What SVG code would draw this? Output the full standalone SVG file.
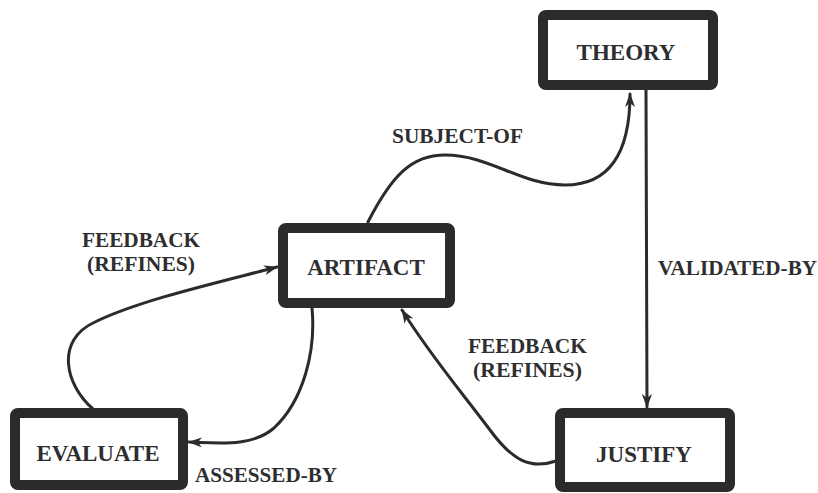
<svg xmlns="http://www.w3.org/2000/svg" width="818" height="493" viewBox="0 0 818 493">
  <style>
    .box { fill: #ffffff; stroke: #2b2b2b; stroke-width: 10; }
    text { font-family: 'Liberation Serif', 'DejaVu Serif', serif; font-weight: bold; fill: #2e2e2e; }
    .node-label { font-size: 23px; text-anchor: middle; }
    .edge-label { font-size: 21px; }
    .edge { fill: none; stroke: #2b2b2b; stroke-width: 3; stroke-linecap: round; }
  </style>
  <defs>
    <marker id="arrow" viewBox="0 0 14 10" refX="13" refY="5" markerWidth="14" markerHeight="10" markerUnits="userSpaceOnUse" orient="auto">
      <path d="M0,0 L14,5 L0,10 L4,5 z" fill="#2b2b2b"/>
    </marker>
  </defs>
  <rect width="818" height="493" fill="#ffffff"/>

  <g id="connectors">
    <!-- ARTIFACT -> THEORY -->
    <path class="edge" marker-end="url(#arrow)" d="M368,222 C392,175 412,155 445,155 C490,155 520,185 565,185 C612,185 630,150 630,94"/>
    <!-- THEORY -> JUSTIFY -->
    <path class="edge" marker-end="url(#arrow)" d="M646,90 L647,407"/>
    <!-- JUSTIFY -> ARTIFACT -->
    <path class="edge" marker-end="url(#arrow)" d="M556,461 C530,470 512,460 490,430 C460,390 430,355 402,310"/>
    <!-- ARTIFACT -> EVALUATE -->
    <path class="edge" marker-end="url(#arrow)" d="M312,308 C316,350 304,400 274,428 C252,447 220,443 189,442"/>
    <!-- EVALUATE -> ARTIFACT -->
    <path class="edge" marker-end="url(#arrow)" d="M93,409 C65,385 55,340 95,322 C140,300 220,282 277,267"/>
    <text class="edge-label" x="392" y="143" textLength="131" lengthAdjust="spacingAndGlyphs">SUBJECT-OF</text>
    <text class="edge-label" x="658" y="275" textLength="159" lengthAdjust="spacingAndGlyphs">VALIDATED-BY</text>
    <text class="edge-label" x="82" y="247" textLength="118" lengthAdjust="spacingAndGlyphs">FEEDBACK</text>
    <text class="edge-label" x="87" y="271" textLength="108" lengthAdjust="spacingAndGlyphs">(REFINES)</text>
    <text class="edge-label" x="468" y="353" textLength="119" lengthAdjust="spacingAndGlyphs">FEEDBACK</text>
    <text class="edge-label" x="473" y="377" textLength="109" lengthAdjust="spacingAndGlyphs">(REFINES)</text>
    <text class="edge-label" x="195" y="482" textLength="142" lengthAdjust="spacingAndGlyphs">ASSESSED-BY</text>
  </g>

  <g id="theory">
    <rect class="box" x="543" y="15" width="170" height="70" rx="3"/>
    <text class="node-label" x="626" y="60">THEORY</text>
  </g>
  <g id="artifact">
    <rect class="box" x="283" y="228" width="167" height="75" rx="3"/>
    <text class="node-label" x="366" y="275">ARTIFACT</text>
  </g>
  <g id="evaluate">
    <rect class="box" x="15" y="413" width="168" height="72" rx="3"/>
    <text class="node-label" x="98" y="461">EVALUATE</text>
  </g>
  <g id="justify">
    <rect class="box" x="560" y="413" width="170" height="74" rx="3"/>
    <text class="node-label" x="644" y="462">JUSTIFY</text>
  </g>
</svg>
